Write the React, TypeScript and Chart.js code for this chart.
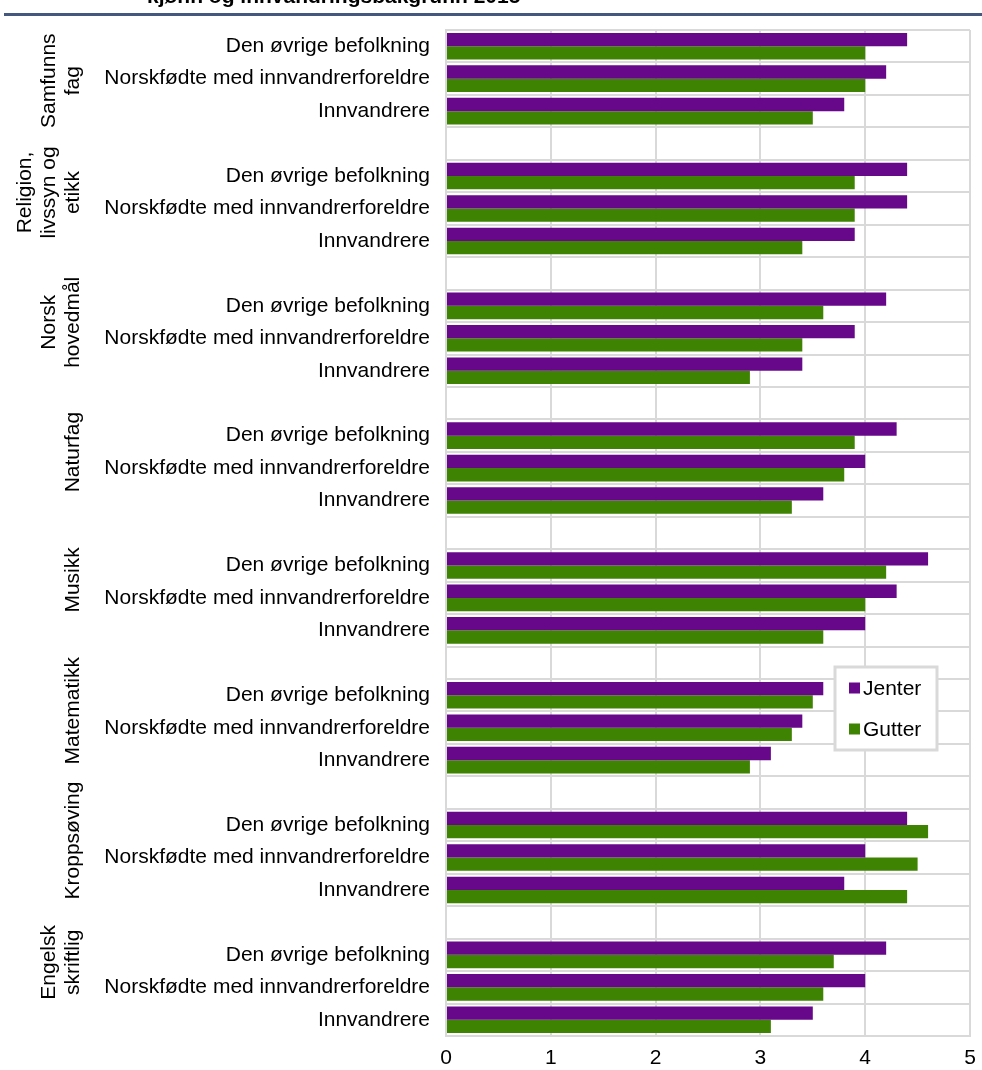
import React, { useEffect, useRef } from "react";
import { Chart, registerables } from "chart.js";

Chart.register(...registerables);

const subjects: string[][] = [
  ["Samfunns", "fag"],
  ["Religion,", "livssyn og", "etikk"],
  ["Norsk", "hovedmål"],
  ["Naturfag"],
  ["Musikk"],
  ["Matematikk"],
  ["Kroppsøving"],
  ["Engelsk", "skriftlig"],
];

const backgrounds: string[] = [
  "Den øvrige befolkning",
  "Norskfødte med innvandrerforeldre",
  "Innvandrere",
];

const jenter: number[] = [
  4.4, 4.2, 3.8,
  4.4, 4.4, 3.9,
  4.2, 3.9, 3.4,
  4.3, 4.0, 3.6,
  4.6, 4.3, 4.0,
  3.6, 3.4, 3.1,
  4.4, 4.0, 3.8,
  4.2, 4.0, 3.5,
];

const gutter: number[] = [
  4.0, 4.0, 3.5,
  3.9, 3.9, 3.4,
  3.6, 3.4, 2.9,
  3.9, 3.8, 3.3,
  4.2, 4.0, 3.6,
  3.5, 3.3, 2.9,
  4.6, 4.5, 4.4,
  3.7, 3.6, 3.1,
];

const seriesNames = ["Jenter", "Gutter"];
const titleText = "kjønn og innvandringsbakgrunn 2015";

const PURPLE = "#67078A";
const GREEN = "#3F8303";
const GRID = "#d9d9d9";
const FONT = "'Liberation Sans', Arial, sans-serif";

// Build rows with a blank row between groups
const rowLabels: string[] = [];
const jenterRows: (number | null)[] = [];
const gutterRows: (number | null)[] = [];
subjects.forEach((_, g) => {
  if (g > 0) {
    rowLabels.push("");
    jenterRows.push(null);
    gutterRows.push(null);
  }
  backgrounds.forEach((b, i) => {
    rowLabels.push(b);
    jenterRows.push(jenter[g * 3 + i]);
    gutterRows.push(gutter[g * 3 + i]);
  });
});

export default function App() {
  const ref = useRef<HTMLCanvasElement | null>(null);

  useEffect(() => {
    document.body.style.margin = "0";
    const canvas = ref.current;
    if (!canvas) return;

    const labelShift = [2, -16, -16, -16, -18, -17, -17, -25];

    const decor = {
      id: "decor",
      afterDraw(chart: any) {
        const ctx = chart.ctx;
        const ca = chart.chartArea;
        const y = chart.scales.y;
        ctx.save();
        // title (cut off at top)
        ctx.fillStyle = "#000";
        ctx.font = `bold 21px ${FONT}`;
        ctx.textAlign = "left";
        ctx.textBaseline = "alphabetic";
        ctx.fillText(titleText, 147, 2.5);
        // blue rule
        ctx.fillStyle = "#44587F";
        ctx.fillRect(4, 13, chart.width - 4, 3);

        // group labels
        ctx.font = `21px ${FONT}`;
        ctx.fillStyle = "#000";
        ctx.textAlign = "center";
        ctx.textBaseline = "middle";
        subjects.forEach((lines, g) => {
          const mid = y.getPixelForValue(g * 4 + 1) + labelShift[g];
          const n = lines.length;
          lines.forEach((line, i) => {
            const x = 73 - (n - 1 - i) * 24;
            ctx.save();
            ctx.translate(x, mid);
            ctx.rotate(-Math.PI / 2);
            ctx.fillText(line, 0, 0);
            ctx.restore();
          });
        });

        // legend
        const lx = ca.right - 135;
        const ly = ca.top + 637;
        const lw = 102;
        const lh = 83;
        ctx.fillStyle = "#fff";
        ctx.fillRect(lx, ly, lw, lh);
        ctx.strokeStyle = GRID;
        ctx.lineWidth = 3;
        ctx.strokeRect(lx, ly, lw, lh);
        const colors = [PURPLE, GREEN];
        ctx.textAlign = "left";
        ctx.textBaseline = "middle";
        seriesNames.forEach((name, i) => {
          const cy = ly + 21 + i * 41;
          ctx.fillStyle = colors[i];
          ctx.fillRect(lx + 14, cy - 5.5, 11, 11);
          ctx.fillStyle = "#000";
          ctx.fillText(name, lx + 28, cy + 1);
        });
        ctx.restore();
      },
    };

    const chart = new Chart(canvas, {
      type: "bar",
      data: {
        labels: rowLabels,
        datasets: [
          {
            label: seriesNames[0],
            data: jenterRows,
            backgroundColor: PURPLE,
            categoryPercentage: 0.82,
            barPercentage: 1.0,
          },
          {
            label: seriesNames[1],
            data: gutterRows,
            backgroundColor: GREEN,
            categoryPercentage: 0.82,
            barPercentage: 1.0,
          },
        ],
      },
      options: {
        indexAxis: "y",
        responsive: false,
        animation: false,
        layout: { padding: { top: 30, right: 12, left: 0, bottom: 0 } },
        plugins: {
          legend: { display: false },
          tooltip: { enabled: false },
          title: { display: false },
        },
        scales: {
          x: {
            min: 0,
            max: 5,
            ticks: {
              stepSize: 1,
              color: "#000",
              font: { family: FONT, size: 21 },
              padding: 10,
            },
            grid: { color: GRID, lineWidth: 2, drawTicks: false },
            border: { display: true, color: GRID, width: 2 },
            afterFit: (s: any) => {
              s.height = 34;
              s.paddingRight = 0;
              s.paddingLeft = 0;
            },
          },
          y: {
            ticks: {
              autoSkip: false,
              color: "#000",
              font: { family: FONT, size: 21 },
              padding: 16,
            },
            grid: { color: GRID, lineWidth: 2, drawTicks: false, offset: true },
            border: { display: true, color: GRID, width: 2 },
            afterFit: (s: any) => {
              s.width = 446;
              s.paddingTop = 0;
              s.paddingBottom = 0;
            },
          },
        },
      },
      plugins: [decor],
    });

    return () => chart.destroy();
  }, []);

  return (
    <div style={{ width: 982, height: 1070 }}>
      <canvas ref={ref} width={982} height={1070} style={{ display: "block" }} />
    </div>
  );
}
